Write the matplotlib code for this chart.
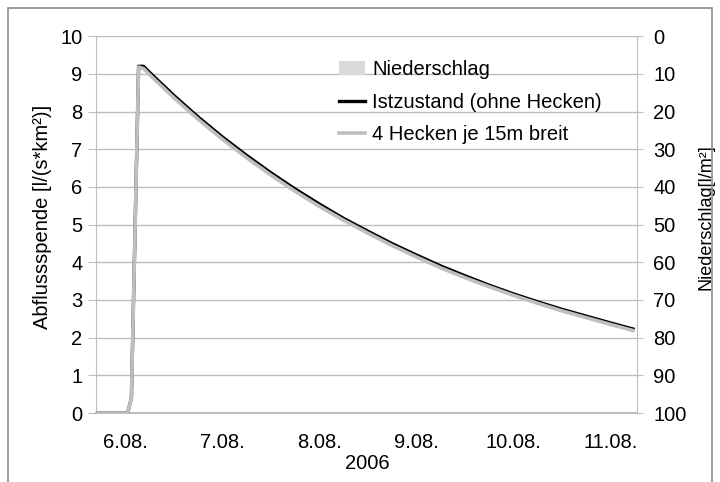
import matplotlib
matplotlib.use("Agg")
import matplotlib.pyplot as plt
from matplotlib.patches import Rectangle, Patch
from matplotlib.lines import Line2D

plt.rcParams['font.family'] = ['Liberation Sans', 'DejaVu Sans']

# time in days after 6.08. 00:00
t = [-0.30, 0.02, 0.06, 0.134, 0.185, 0.25, 0.5, 0.75, 1.0, 1.25, 1.5, 1.75,
     2.0, 2.25, 2.5, 2.75, 3.0, 3.25, 3.5, 3.75, 4.0, 4.25, 4.5, 4.75, 5.0, 5.23]
ist = [0, 0, 0.4, 9.2, 9.2, 9.03, 8.42, 7.85, 7.32, 6.83, 6.37, 5.94,
       5.54, 5.16, 4.82, 4.49, 4.19, 3.90, 3.64, 3.39, 3.16, 2.95, 2.75, 2.57, 2.39, 2.23]
hecken = [0, 0, 0.4, 9.18, 9.14, 8.97, 8.36, 7.79, 7.26, 6.77, 6.31, 5.88,
          5.48, 5.11, 4.77, 4.44, 4.14, 3.85, 3.59, 3.35, 3.12, 2.91, 2.71, 2.53, 2.35, 2.19]
precip_t = [0, 1, 2, 3, 4, 5]
precip = [0, 0, 0, 0, 0, 0]

day_ticks = [0, 1, 2, 3, 4, 5]
day_labels = ['6.08.', '7.08.', '8.08.', '9.08.', '10.08.', '11.08.']

FS = 14.5
fig = plt.figure(figsize=(7.2, 4.82), dpi=100)
ax = fig.add_axes([0.134, 0.143, 0.751, 0.782])
ax2 = ax.twinx()

grid_c = '#bdbdbd'
ax.set_ylim(0, 10)
ax.set_yticks(range(0, 11))
ax.set_xlim(-0.30, 5.273)
ax.set_xticks(day_ticks)
ax.set_xticklabels(day_labels)
ax.yaxis.grid(True, color=grid_c, lw=1)
ax.set_axisbelow(True)
for s in ['top', 'right']:
    ax.spines[s].set_visible(False)
for s in ['left', 'bottom']:
    ax.spines[s].set_color(grid_c)
ax.spines['bottom'].set_linewidth(1.5)
ax.tick_params(axis='y', length=6, color=grid_c, labelsize=FS, pad=4)
ax.tick_params(axis='x', length=0, labelsize=FS, pad=14)
ax.set_ylabel('Abflussspende [l/(s*km²)]', fontsize=FS)
ax.yaxis.set_label_coords(-0.083, 0.52)
ax.set_xlabel('2006', fontsize=FS, labelpad=2)

ax2.set_ylim(100, 0)
ax2.set_yticks(range(0, 101, 10))
for s in ['top', 'left', 'bottom']:
    ax2.spines[s].set_visible(False)
ax2.spines['right'].set_color(grid_c)
ax2.tick_params(axis='y', length=4.5, color=grid_c, labelsize=FS, pad=7)
ax2.set_ylabel('Niederschlag[l/m²]', fontsize=13)
ax2.yaxis.set_label_coords(1.111, 0.52)

ax2.bar(precip_t, precip, width=0.04, color='#d9d9d9')
ax.plot(t, ist, color='black', lw=2.4, zorder=3)
ax.plot(t, hecken, color='#bfbfbf', lw=2.6, zorder=4)

handles = [Patch(facecolor='#d9d9d9', edgecolor='none'),
           Line2D([], [], color='black', lw=2.4),
           Line2D([], [], color='#bfbfbf', lw=2.6)]
labels = ['Niederschlag', 'Istzustand (ohne Hecken)', '4 Hecken je 15m breit']
leg = ax2.legend(handles, labels, loc='upper left', bbox_to_anchor=(0.415, 0.985),
                 frameon=False, fontsize=FS, handlelength=1.3, handletextpad=0.35,
                 labelspacing=0.68)

fig.patches.append(Rectangle((0.011, -0.02), 0.978, 1.003, transform=fig.transFigure,
                             fill=False, edgecolor='#8c8c8c', lw=1.2))

fig.savefig('out.png', dpi=100)
